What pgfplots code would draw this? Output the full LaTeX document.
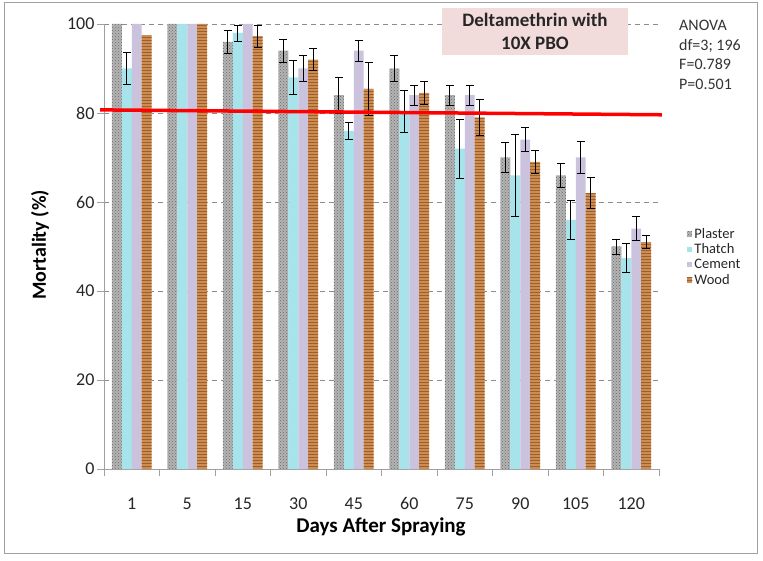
\documentclass[border=0pt]{standalone}
\usepackage{pgfplots}
\pgfplotsset{compat=1.18}
\usepackage{pgfplotstable}
\usepackage{fontspec}
\setmainfont{Carlito}
\usetikzlibrary{patterns}
\definecolor{plaster}{HTML}{B4B4B4}
\definecolor{plasterdot}{HTML}{6A6A6A}
\definecolor{thatch}{HTML}{A6E3EB}
\definecolor{cement}{HTML}{CBC2DD}
\definecolor{wood}{HTML}{CC8D52}
\definecolor{woodline}{HTML}{9E5F2C}
\definecolor{titlebox}{HTML}{F2DCDB}
\definecolor{axisgray}{HTML}{A0A0A0}
\definecolor{gridgray}{HTML}{8C8C8C}

\pgfplotstableread{
x p pe t te c ce w we
0 100 nan 90 3.6 100 nan 97.5 nan
1 100 nan 100 nan 100 nan 100 nan
2 96 2.5 98 1.8 100 nan 97.3 2.5
3 94 2.6 88 3.8 90 3 92 2.5
4 84 4 76 2 94 2.3 85.4 6
5 90 3 80.3 4.7 84 2.2 84.5 2.5
6 84 2.2 72 6.6 84 2.2 79 4
7 70 3.4 66 9.3 74 2.7 69 2.6
8 66 2.6 56 4.3 70 3.6 62 3.5
9 50 1.7 47.4 3.2 54 2.7 51 1.4
}\data

\pgfplotsset{
  mybar/.style={draw=none,
    error bars/y dir=both, error bars/y explicit,
    error bars/error bar style={black, line width=0.7pt},
    error bars/error mark options={black, line width=0.7pt, mark size=4pt, rotate=90}},
  myleg/.style={legend image code/.code={\path[##1] (0pt,-2.5pt) rectangle (5.5pt,3pt);}},
}

\begin{document}
\begin{tikzpicture}
\useasboundingbox (0pt,0pt) rectangle (763pt,560pt);
\draw[axisgray, line width=1pt] (4pt,7pt) rectangle (757pt,557pt);
\begin{axis}[
  at={(104pt,91pt)}, anchor=south west, scale only axis,
  width=555pt, height=445pt,
  ybar=0pt, bar width=0.18,
  xmin=-0.5, xmax=9.5, ymin=0, ymax=100,
  axis x line*=bottom, axis y line*=left,
  axis line style={-, draw=axisgray, line width=0.8pt},
  xtick={0,...,9},
  xticklabels={1,5,15,30,45,60,75,90,105,120},
  major x tick style={draw=none},
  minor xtick={-0.5,0.5,...,9.5},
  minor tick length=7pt,
  minor x tick style={draw=axisgray, line width=0.8pt},
  ytick={0,20,...,100},
  y tick style={draw=axisgray, line width=0.8pt},
  major tick length=7pt,
  tick align=outside,
  ymajorgrids,
  grid style={gridgray, dash pattern=on 5pt off 4pt, line width=0.8pt},
  /pgf/number format/assume math mode=true,
  tick label style={font=\fontsize{18}{20}\selectfont, text=black!85},
  xticklabel style={anchor=base, yshift=-33pt},
  yticklabel style={xshift=1pt},
  clip=false,
  legend style={at={(1.050,0.546)}, anchor=north west, draw=none, fill=none,
    font=\fontsize{14.5}{16.3}\selectfont, row sep=0pt, inner sep=0pt,
    text=black!85},
  legend cell align=left,
]
\addplot[mybar, fill=plaster,
  postaction={pattern=crosshatch dots, pattern color=plasterdot}, myleg]
  table[x=x, y=p, y error=pe] {\data};
\addlegendentry{Plaster}
\addplot[mybar, fill=thatch, myleg]
  table[x=x, y=t, y error=te] {\data};
\addlegendentry{Thatch}
\addplot[mybar, fill=cement, myleg]
  table[x=x, y=c, y error=ce] {\data};
\addlegendentry{Cement}
\addplot[mybar, fill=wood,
  postaction={pattern=horizontal lines, pattern color=woodline}, myleg]
  table[x=x, y=w, y error=we] {\data};
\addlegendentry{Wood}
\addplot[red, line width=3.5pt, sharp plot, no markers, forget plot, bar shift=0pt]
  coordinates {(-0.57,80.7) (9.55,79.6)};
\end{axis}
\node[fill=titlebox, minimum width=186pt, minimum height=47pt, align=center,
  inner sep=0pt, font=\bfseries\fontsize{19}{23}\selectfont, text=black!85]
  at (535pt,528.5pt) {Deltamethrin with\\10X PBO};
\node[anchor=north west, align=left, inner sep=0pt,
  font=\fontsize{16}{19.5}\selectfont, text=black!80]
  at (679pt,540pt) {ANOVA\\df=3; 196\\F=0.789\\P=0.501};
\node[rotate=90, font=\bfseries\fontsize{20}{24}\selectfont]
  at (40pt,315pt) {Mortality (\%)};
\node[font=\bfseries\fontsize{21}{25}\selectfont]
  at (381pt,33pt) {Days After Spraying};
\end{tikzpicture}
\end{document}
